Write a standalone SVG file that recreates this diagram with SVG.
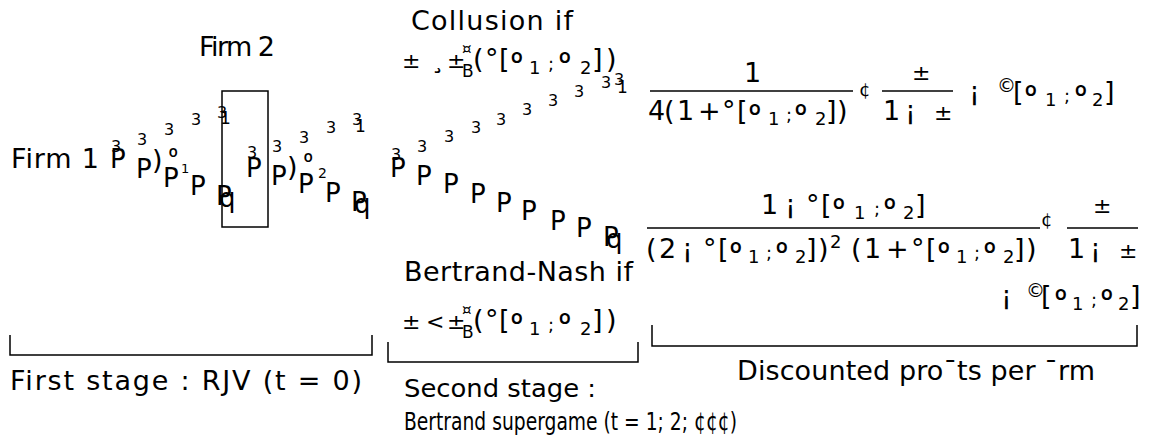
<svg xmlns="http://www.w3.org/2000/svg" width="1149" height="441" viewBox="0 0 1149 441">
<style>
text{font-family:"DejaVu Sans","Liberation Sans",sans-serif;fill:#000}
.t{font-size:27px}
.s{font-size:18px}
.pm{font-size:22px}
.o{font-family:Roboto,"DejaVu Sans",sans-serif;font-size:30px}
.d3{font-size:16px}
.dp{font-size:26px}
.ln{stroke:#000;stroke-width:1.5;fill:none}
</style>
<rect width="1149" height="441" fill="#fff"/>
<g id="connectors">
  <text class="d3" x="111 137 164 191 217" y="152 145 135 125 118">33333</text>
  <text x="220" y="124" style="font-size:17px">1</text>
  <text class="dp" x="110 136 163 190 216" y="168 178 187 195 205">PPPPP</text>
  <text class="dp" x="219" y="207">q</text>
  <text class="t" x="152" y="169">)</text>
  <text class="o" x="168" y="164" style="font-size:23px">º</text>
  <text x="181" y="173" style="font-size:13px">1</text>

  <text class="d3" x="247 272 299 326 352" y="158 152 143 133 125">33333</text>
  <text x="355" y="132" style="font-size:17px">1</text>
  <text class="dp" x="246 271 298 325 351" y="177 185 193 202 211">PPPPP</text>
  <text class="dp" x="354" y="213">q</text>
  <text class="t" x="287" y="176">)</text>
  <text class="o" x="303" y="169" style="font-size:23px">º</text>
  <text x="318" y="178" style="font-size:14px">2</text>

  <text class="d3" x="391 417 444 471 496 522 548 574 601 614" y="160 152 142 133 125 115 106 97 88 85">3333333333</text>
  <text x="617" y="93" style="font-size:17px">1</text>
  <text class="dp" x="390 416 443 470 496 521 550 576 603" y="177 185 193 203 212 220 230 237 246">PPPPPPPPP</text>
  <text class="dp" x="606" y="248">q</text>
</g>
<g id="firm1">
  <text class="t" x="11" y="168" textLength="88">Firm 1</text>
</g>
<g id="firm2">
  <rect class="ln" x="222" y="91" width="46" height="136"/>
  <text class="t" x="199" y="56" textLength="76">Firm 2</text>
</g>
<g id="collusion">
  <text class="t" x="411" y="30" textLength="162">Collusion if</text>
  <text class="t" y="68"><tspan x="402" class="pm">± </tspan><tspan x="431">¸ </tspan><tspan x="447" class="pm">±</tspan><tspan x="462" y="54" style="font-size:15px">¤</tspan><tspan x="462" y="77" style="font-size:17px">B</tspan><tspan x="473" y="68">(</tspan><tspan x="485">°</tspan><tspan x="499">[</tspan><tspan x="510" y="73" class="o">º</tspan><tspan x="529" y="74" class="s">1 </tspan><tspan x="548" y="70" class="s">; </tspan><tspan x="558" y="73" class="o">º</tspan><tspan x="580" y="74" class="s">2</tspan><tspan x="592" y="68">]</tspan><tspan x="606">)</tspan></text>
</g>
<g id="bertrand-nash">
  <text class="t" x="404" y="281" textLength="229">Bertrand-Nash if</text>
  <text class="t" y="329"><tspan x="402" class="pm">± </tspan><tspan x="426" style="font-size:22px">&lt; </tspan><tspan x="447" class="pm">±</tspan><tspan x="462" y="315" style="font-size:15px">¤</tspan><tspan x="462" y="338" style="font-size:17px">B</tspan><tspan x="473" y="329">(</tspan><tspan x="485">°</tspan><tspan x="499">[</tspan><tspan x="510" y="334" class="o">º</tspan><tspan x="529" y="335" class="s">1 </tspan><tspan x="548" y="331" class="s">; </tspan><tspan x="558" y="334" class="o">º</tspan><tspan x="580" y="335" class="s">2</tspan><tspan x="592" y="329">]</tspan><tspan x="606">)</tspan></text>
</g>
<g id="profit-collusion">
  <text class="t" x="744" y="82">1</text>
  <line class="ln" x1="650" y1="91" x2="853" y2="91"/>
  <text class="t" y="120"><tspan x="648">4</tspan><tspan x="664">(</tspan><tspan x="677">1 </tspan><tspan x="698">+ </tspan><tspan x="722">°</tspan><tspan x="737">[</tspan><tspan x="748" y="125" class="o">º</tspan><tspan x="768" y="125" class="s">1 </tspan><tspan x="786" y="121" class="s">; </tspan><tspan x="794" y="125" class="o">º</tspan><tspan x="815" y="125" class="s">2</tspan><tspan x="826" y="120">]</tspan><tspan x="837">)</tspan></text>
  <text x="859" y="96" style="font-size:18px">¢</text>
  <text class="pm" x="912" y="80">±</text>
  <line class="ln" x1="882" y1="91" x2="953" y2="91"/>
  <text class="t" y="120"><tspan x="883">1 </tspan><tspan x="905">¡ </tspan><tspan x="934" class="pm">±</tspan></text>
  <text class="t" y="101"><tspan x="969">¡ </tspan><tspan x="997" y="92" style="font-size:19px">©</tspan><tspan x="1013" y="101">[</tspan><tspan x="1024" y="106" class="o">º</tspan><tspan x="1045" y="106" class="s">1 </tspan><tspan x="1064" y="102" class="s">; </tspan><tspan x="1074" y="106" class="o">º</tspan><tspan x="1092" y="106" class="s">2</tspan><tspan x="1104" y="101">]</tspan></text>
</g>
<g id="profit-bertrand">
  <text class="t" y="214"><tspan x="761">1 </tspan><tspan x="785">¡ </tspan><tspan x="806">°</tspan><tspan x="821">[</tspan><tspan x="832" y="219" class="o">º</tspan><tspan x="854" y="219" class="s">1 </tspan><tspan x="874" y="215" class="s">; </tspan><tspan x="883" y="219" class="o">º</tspan><tspan x="903" y="219" class="s">2</tspan><tspan x="915" y="214">]</tspan></text>
  <line class="ln" x1="647" y1="228" x2="1040" y2="228"/>
  <text class="t" y="258"><tspan x="646">(</tspan><tspan x="659">2 </tspan><tspan x="682">¡ </tspan><tspan x="703">°</tspan><tspan x="718">[</tspan><tspan x="729" y="263" class="o">º</tspan><tspan x="748" y="263" class="s">1 </tspan><tspan x="766" y="259" class="s">; </tspan><tspan x="775" y="263" class="o">º</tspan><tspan x="795" y="263" class="s">2</tspan><tspan x="806" y="258">]</tspan><tspan x="818">)</tspan><tspan x="830" y="248" class="s">2</tspan><tspan x="851" y="258">(</tspan><tspan x="864">1 </tspan><tspan x="886">+ </tspan><tspan x="911">°</tspan><tspan x="926">[</tspan><tspan x="937" y="263" class="o">º</tspan><tspan x="956" y="263" class="s">1 </tspan><tspan x="974" y="259" class="s">; </tspan><tspan x="983" y="263" class="o">º</tspan><tspan x="1003" y="263" class="s">2</tspan><tspan x="1014" y="258">]</tspan><tspan x="1026">)</tspan></text>
  <text x="1041" y="226" style="font-size:18px">¢</text>
  <text class="pm" x="1093" y="213">±</text>
  <line class="ln" x1="1067" y1="228" x2="1138" y2="228"/>
  <text class="t" y="258"><tspan x="1068">1 </tspan><tspan x="1090">¡ </tspan><tspan x="1119" class="pm">±</tspan></text>
  <text class="t" y="305"><tspan x="1001">¡ </tspan><tspan x="1026" y="297" style="font-size:19px">©</tspan><tspan x="1041" y="305">[</tspan><tspan x="1054" y="310" class="o">º</tspan><tspan x="1072" y="310" class="s">1 </tspan><tspan x="1091" y="306" class="s">; </tspan><tspan x="1100" y="310" class="o">º</tspan><tspan x="1118" y="310" class="s">2</tspan><tspan x="1130" y="305">]</tspan></text>
</g>
<g id="stages">
  <path class="ln" d="M10,335 V355 H372 V335"/>
  <path class="ln" d="M388,342 V362 H638 V342"/>
  <path class="ln" d="M652,325 V346 H1137 V325"/>
  <text class="t" x="10" y="390" textLength="352">First stage : RJV (t = 0)</text>
  <text class="t" x="404" y="397" style="font-size:25px" textLength="192" lengthAdjust="spacingAndGlyphs">Second stage :</text>
  <text class="t" x="404" y="430" style="font-size:24px" textLength="333" lengthAdjust="spacingAndGlyphs">Bertrand supergame (t = 1; 2; ¢¢¢)</text>
  <text class="t" x="737" y="380" textLength="358">Discounted pro¯ts per ¯rm</text>
</g>
</svg>
